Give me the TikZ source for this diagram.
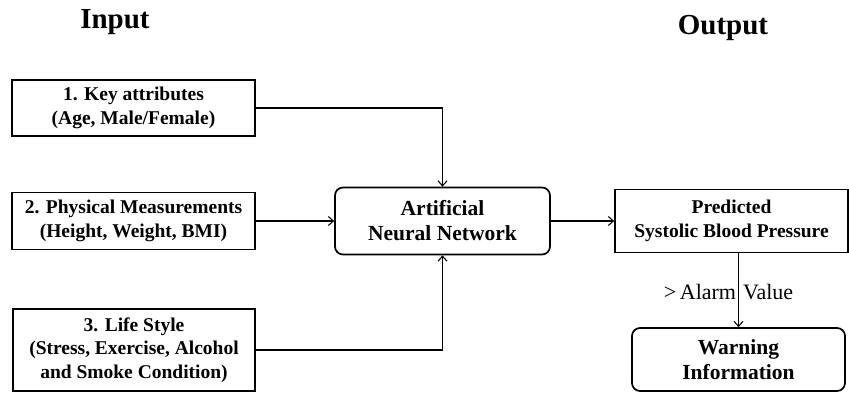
\documentclass[tikz,border=0pt]{standalone}
\usepackage{fontspec}
\setmainfont{Liberation Serif}
\usetikzlibrary{arrows.meta}
\begin{document}
\begin{tikzpicture}[x=1pt,y=-1pt,
  box/.style={draw,line width=1.7pt,align=center,font=\fontsize{19.5}{23.5}\selectfont\bfseries,inner sep=0pt},
  rbox/.style={box,rounded corners=8pt,font=\fontsize{21.5}{25}\selectfont\bfseries},
  head/.style={font=\fontsize{29}{34}\selectfont\bfseries},
  link/.style={line width=1.1pt,-{Straight Barb[length=5pt,width=9pt]}}]
\useasboundingbox (0,0) rectangle (849,394);
% inputs
\node[box,minimum width=243pt,minimum height=56pt] (k) at (133.5,108) {1. Key attributes\\(Age, Male/Female)};
\node[box,minimum width=243pt,minimum height=57pt] (p) at (133.5,221) {2. Physical Measurements\\(Height, Weight, BMI)};
\node[box,minimum width=242pt,minimum height=82pt] (l) at (134,350) {3. Life Style\\(Stress, Exercise, Alcohol\\and Smoke Condition)};
% network
\node[rbox,minimum width=215pt,minimum height=67pt] (ann) at (442.5,221) {Artificial\\Neural Network};
% outputs
\node[box,minimum width=233pt,minimum height=63pt] (sbp) at (731.5,221) {Predicted\\Systolic Blood Pressure};
\node[rbox,minimum width=213pt,minimum height=63pt] (warn) at (738.5,359.5) {Warning\\Information};
% headings
\node[head] (in) at (115,22) {Input};
\node[head] (out) at (723,28) {Output};
% connectors
\draw[link] (k.east) -| (ann.north);
\draw[link] (l.east) -| (ann.south);
\draw[link] (p.east) -- (ann.west);
\draw[link] (ann.east) -- (sbp.west);
\draw[link] (sbp.south -| warn.north) -- (warn.north);
\node[font=\fontsize{22}{26}\selectfont,inner sep=0pt] (alarm) at (728.5,292) {>\,Alarm\hspace{7pt}Value};
\end{tikzpicture}
\end{document}
